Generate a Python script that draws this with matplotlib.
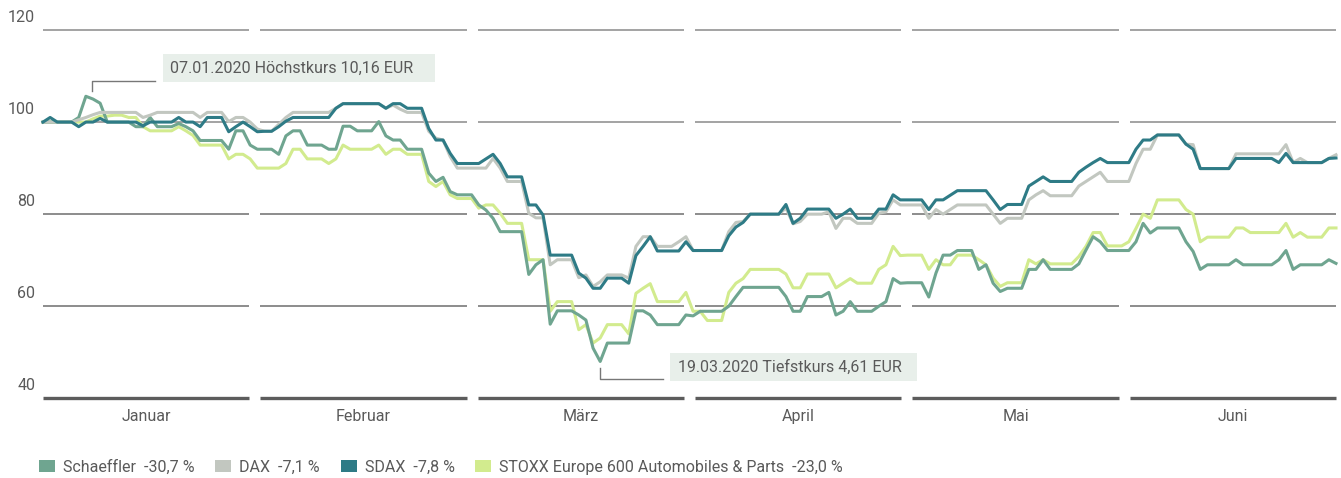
import matplotlib
matplotlib.use("Agg")
import matplotlib.pyplot as plt
from matplotlib.patches import Patch, Rectangle
import numpy as np

# Index 31.12.2019 = 100, one value per calendar day (01.01. - 30.06.2020)
schaeffler = [
    # Januar
    100, 100, 100, 100, 100, 101.0, 105.6, 105.0, 104.1, 100, 100, 100, 100, 99.0, 99.0, 101.0,
    99.0, 99.0, 99.0, 99.7, 99.0, 98.1, 96.0, 96.0, 96.0, 96.0, 94.1, 98.1, 98.1, 95.0, 94.1,
    # Februar
    94.1, 94.1, 93.0, 97.0, 98.1, 98.1, 95.0, 95.0, 95.0, 94.1, 94.1, 99.1, 99.1, 98.1, 98.1,
    98.1, 100.1, 97.0, 96.1, 96.1, 94.1, 94.1, 94.1, 88.9, 87.1, 88.0, 84.9, 84.2, 84.2,
    # März
    84.2, 82.0, 80.9, 79.1, 76.2, 76.2, 76.2, 76.2, 66.9, 69.0, 70.1, 56.1, 59.0, 59.0, 59.0,
    58.1, 57.0, 50.9, 48.0, 52.0, 52.0, 52.0, 52.0, 59.0, 59.0, 58.1, 56.0, 56.0, 56.0, 56.0, 58.1,
    # April
    57.9, 58.9, 58.9, 58.9, 58.9, 60.0, 62.1, 64.1, 64.1, 64.1, 64.1, 64.1, 64.1, 62.1, 58.9,
    58.9, 62.1, 62.1, 62.1, 63.0, 58.1, 58.9, 61.0, 58.9, 58.9, 58.9, 60.0, 61.0, 66.0, 65.0,
    # Mai
    65.1, 65.1, 65.1, 62.0, 67.2, 71.1, 71.1, 72.1, 72.1, 72.1, 68.0, 69.0, 65.0, 63.2, 63.9,
    63.9, 63.9, 68.0, 68.0, 70.1, 68.0, 68.0, 68.0, 68.0, 69.2, 72.2, 75.1, 74.0, 72.1, 72.1, 72.1,
    # Juni
    72.1, 74.0, 78.0, 75.9, 77.0, 77.0, 77.0, 77.0, 74.0, 71.9, 68.0, 69.0, 69.0, 69.0, 69.0,
    70.1, 69.0, 69.0, 69.0, 69.0, 69.0, 70.1, 72.1, 68.0, 69.0, 69.0, 69.0, 69.0, 70.1, 69.3,
]

dax = [
    100, 100, 100, 100, 100, 100.5, 101.0, 101.6, 102.1, 102.1, 102.1, 102.1, 102.1, 102.1, 101.0, 101.5,
    102.1, 102.1, 102.1, 102.1, 102.1, 102.1, 101.0, 102.1, 102.1, 102.1, 100.1, 101.0, 101.0, 100.0, 98.5,
    98.0, 98.0, 99.5, 101.0, 102.1, 102.1, 102.1, 102.1, 102.1, 102.1, 103.0, 104.0, 104.0, 104.0, 104.0,
    104.0, 104.0, 103.0, 103.7, 102.8, 102.1, 102.1, 102.1, 98.0, 96.5, 96.1, 92.5, 90.0, 90.0,
    90.0, 90.0, 90.0, 92.1, 90.0, 87.1, 87.1, 87.1, 80.2, 79.2, 79.2, 69.0, 70.1, 70.1, 70.1,
    66.2, 66.8, 64.3, 65.3, 66.8, 66.8, 66.8, 66.1, 73.0, 75.1, 75.1, 73.0, 73.0, 73.0, 74.0, 75.1,
    72.1, 72.1, 72.1, 72.1, 72.1, 76.2, 78.2, 78.4, 80.0, 80.0, 80.0, 80.0, 80.0, 81.3, 77.9,
    78.4, 80.0, 80.0, 80.0, 80.5, 76.9, 79.1, 79.1, 78.0, 78.0, 78.0, 80.2, 80.5, 83.1, 82.0,
    82.0, 82.0, 82.0, 79.1, 81.0, 80.0, 81.0, 82.0, 82.0, 82.0, 82.0, 82.0, 80.0, 78.0, 79.1,
    79.1, 79.1, 83.1, 84.2, 85.1, 84.0, 84.0, 84.0, 84.0, 86.1, 87.1, 88.1, 89.1, 87.1, 87.1, 87.1,
    87.1, 91.0, 94.1, 94.1, 97.2, 97.2, 97.2, 97.2, 95.2, 95.1, 89.9, 89.9, 89.9, 89.9, 89.9,
    93.1, 93.1, 93.1, 93.1, 93.1, 93.1, 93.1, 95.1, 91.2, 92.1, 91.2, 91.2, 91.2, 92.1, 92.9,
]

sdax = [
    100, 101.0, 100, 100, 100, 99.0, 100, 100, 100.8, 100, 100, 100, 100, 100, 99.2, 100,
    100, 100, 100, 101.0, 100, 100, 99.0, 101.0, 101.0, 101.0, 97.9, 99.0, 100, 99.0, 97.9,
    98.0, 98.0, 99.0, 100.2, 101.0, 101.0, 101.0, 101.0, 101.0, 101.0, 103.0, 104.0, 104.0, 104.0, 104.0,
    104.0, 104.0, 103.0, 104.0, 104.0, 103.0, 103.0, 103.0, 98.6, 96.1, 96.1, 93.2, 91.0, 91.0,
    91.0, 91.0, 92.0, 93.0, 91.0, 88.1, 88.1, 88.1, 82.0, 82.0, 79.8, 71.1, 71.1, 71.1, 71.1,
    67.2, 66.1, 63.9, 63.9, 66.1, 66.1, 66.1, 65.0, 71.0, 73.0, 75.1, 72.0, 72.0, 72.0, 72.0, 74.0,
    72.1, 72.1, 72.1, 72.1, 72.1, 75.3, 77.2, 78.2, 80.0, 80.0, 80.0, 80.0, 80.0, 82.1, 78.0,
    79.1, 81.1, 81.1, 81.1, 81.1, 79.1, 80.0, 81.1, 79.1, 79.1, 79.1, 81.1, 81.1, 84.2, 83.1,
    83.1, 83.1, 83.1, 81.0, 83.1, 83.1, 84.1, 85.1, 85.1, 85.1, 85.1, 85.1, 83.1, 81.0, 82.1,
    82.1, 82.1, 86.1, 87.1, 88.1, 87.1, 87.1, 87.1, 87.1, 89.1, 90.2, 91.2, 92.1, 91.2, 91.2, 91.2,
    91.2, 94.1, 96.1, 96.1, 97.2, 97.2, 97.2, 97.2, 95.2, 94.1, 89.9, 89.9, 89.9, 89.9, 89.9,
    92.1, 92.1, 92.1, 92.1, 92.1, 92.1, 91.2, 93.2, 91.2, 91.2, 91.2, 91.2, 91.2, 92.1, 92.2,
]

stoxx = [
    100, 100, 100, 100, 100, 100, 100, 100.7, 101.3, 101.3, 101.5, 101.5, 101.0, 101.0, 99.0, 98.1,
    98.1, 98.1, 98.1, 99.0, 98.1, 97.1, 95.0, 95.0, 95.0, 95.0, 92.0, 93.0, 93.0, 92.0, 90.0,
    90.0, 90.0, 90.0, 91.0, 94.1, 94.1, 92.0, 92.0, 92.0, 91.0, 92.0, 95.0, 94.1, 94.1, 94.1,
    94.1, 95.0, 93.0, 94.1, 94.1, 93.0, 93.0, 93.0, 87.1, 86.0, 87.1, 84.2, 83.4, 83.4,
    83.4, 81.3, 82.0, 82.0, 80.2, 78.0, 78.0, 78.0, 70.1, 70.1, 70.1, 58.9, 61.0, 61.0, 61.0,
    54.9, 56.0, 52.0, 53.1, 56.0, 56.0, 56.0, 54.0, 62.8, 63.9, 64.9, 61.0, 61.0, 61.0, 61.0, 63.0,
    58.9, 58.9, 56.9, 56.9, 56.9, 63.0, 65.0, 66.0, 68.0, 68.0, 68.0, 68.0, 68.0, 67.0, 64.0,
    64.0, 67.0, 67.0, 67.0, 67.0, 64.0, 65.0, 66.0, 65.0, 65.0, 65.0, 68.0, 69.0, 73.0, 71.0,
    71.1, 71.1, 71.1, 68.0, 70.1, 69.0, 69.0, 71.1, 71.1, 71.1, 70.1, 69.0, 66.1, 64.3, 65.1,
    65.1, 65.1, 70.1, 69.2, 70.1, 69.2, 69.2, 69.2, 69.2, 70.8, 73.0, 76.0, 76.0, 73.1, 73.1, 73.1,
    74.0, 76.9, 80.0, 79.1, 83.1, 83.1, 83.1, 83.1, 81.0, 80.0, 74.0, 75.0, 75.0, 75.0, 75.0,
    77.0, 77.0, 76.0, 76.0, 76.0, 76.0, 76.0, 78.0, 75.0, 76.0, 75.0, 75.0, 75.0, 77.0, 77.0,
]

months = ["Januar", "Februar", "März", "April", "Mai", "Juni"]
legend_labels = ["Schaeffler  -30,7 %", "DAX  -7,1 %", "SDAX  -7,8 %",
                 "STOXX Europe 600 Automobiles & Parts  -23,0 %"]
y_ticks = [40, 60, 80, 100, 120]

c_schaeffler = "#6fa590"
c_dax = "#c2c7c0"
c_sdax = "#2e7b86"
c_stoxx = "#d2eb8e"
text_color = "#5a5a5a"

plt.rcParams['font.family'] = ['Roboto', 'DejaVu Sans']

fig = plt.figure(figsize=(13.41, 4.78), dpi=100)
W, H = 1341, 478
ax = fig.add_axes([43 / W, 1 - 398.3 / H, 1293 / W, (398.3 - 30) / H])
n = len(sdax)
x = np.arange(n)
ax.set_xlim(0, n - 1)
ax.set_ylim(40, 120)
ax.axis("off")

# month segments of the grid, with small gaps
gap = 1.54
seg = (n - 1 - 5 * gap) / 6
for i, m in enumerate(months):
    x0 = i * (seg + gap)
    x1 = x0 + seg
    for v in y_ticks:
        if v == 40:
            ax.plot([x0, x1], [v, v], color="#5c5c5c", lw=2.4, solid_capstyle="butt", clip_on=False)
        elif v >= 100:
            ax.plot([x0, x1], [v, v], color="#9c9c9c", lw=1.3, solid_capstyle="butt", clip_on=False)
        else:
            ax.plot([x0, x1], [v, v], color="#6e6e6e", lw=1.1, solid_capstyle="butt", clip_on=False)
    ax.text((x0 + x1) / 2, 36.0, m, ha="center", va="center", fontsize=11.5, color=text_color,
            clip_on=False)

for v in y_ticks:
    ax.text(-1.1, v + 2.7, str(v), ha="right", va="center", fontsize=11.5, color=text_color,
            clip_on=False)

lw = 2.2
ax.plot(x, stoxx, color=c_stoxx, lw=lw, clip_on=False)
ax.plot(x, schaeffler, color=c_schaeffler, lw=lw, clip_on=False)
ax.plot(x, dax, color=c_dax, lw=lw, clip_on=False)
ax.plot(x, sdax, color=c_sdax, lw=lw, clip_on=False)

# annotations high / low
box_color = "#e8efea"
i_max = int(np.argmax(schaeffler))
i_min = int(np.argmin(schaeffler))
px = 7.144  # pixels per day
pv = 4.61   # pixels per index point

xa = i_max + 0.85
ax.plot([xa, xa, xa + 63 / px], [schaeffler[i_max] + 1.1, 108.9, 108.9], color="#777777", lw=1.0,
        clip_on=False)
ax.add_patch(Rectangle((xa + 71 / px, 108.7), 272 / px, 28 / pv, facecolor=box_color,
                       edgecolor="none", clip_on=False))
ax.text(xa + 78 / px, 108.7 + 14 / pv, "07.01.2020 Höchstkurs 10,16 EUR", ha="left", va="center",
        fontsize=11.5, color=text_color, clip_on=False)

xb = i_min
ax.plot([xb, xb, xb + 63 / px], [schaeffler[i_min] - 1.5, 44.1, 44.1], color="#777777", lw=1.0,
        clip_on=False)
ax.add_patch(Rectangle((xb + 70 / px, 43.7), 247 / px, 28 / pv, facecolor=box_color,
                       edgecolor="none", clip_on=False))
ax.text(xb + 78 / px, 43.7 + 14 / pv, "19.03.2020 Tiefstkurs 4,61 EUR", ha="left", va="center",
        fontsize=11.5, color=text_color, clip_on=False)

handles = [Patch(facecolor=c, edgecolor="none") for c in (c_schaeffler, c_dax, c_sdax, c_stoxx)]
fig.legend(handles, legend_labels, loc="center left", bbox_to_anchor=(39 / W, 1 - 467 / H),
           ncol=4, frameon=False, fontsize=11.5, handlelength=1.0, handleheight=0.75,
           handletextpad=0.5, columnspacing=1.3, borderpad=0, borderaxespad=0,
           labelcolor=text_color)

fig.savefig("out.png", dpi=100)
